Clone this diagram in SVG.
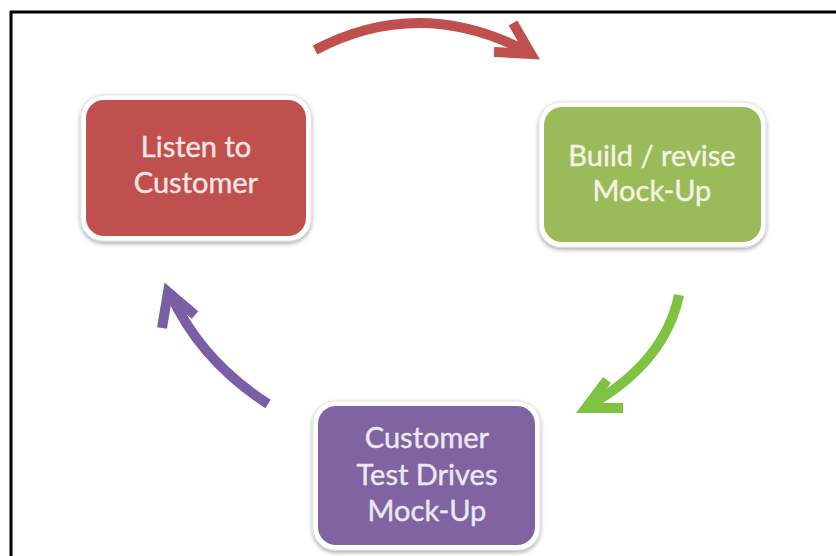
<svg xmlns="http://www.w3.org/2000/svg" width="836" height="556" viewBox="0 0 836 556">
  <defs>
    <filter id="sh" x="-10%" y="-10%" width="120%" height="130%">
      <feDropShadow dx="0" dy="2" stdDeviation="2" flood-color="#000" flood-opacity="0.35"/>
    </filter>
    <style>
      .rim { fill: #ffffff; stroke: #e2e2e2; stroke-width: 1; filter: url(#sh); }
      .lbl { font-family: Lato, "Open Sans", "Liberation Sans", sans-serif; font-size: 29px; text-anchor: middle; stroke-width: 0.4; }
      .arr { fill: none; stroke-width: 10; stroke-linecap: butt; stroke-linejoin: miter; }
    </style>
  </defs>
  <rect x="0" y="0" width="836" height="556" fill="#ffffff"/>
  <g id="frame" stroke="#000" stroke-width="3">
    <line x1="10" y1="12" x2="836" y2="12"/>
    <line x1="11" y1="11" x2="11" y2="556"/>
  </g>

  <g id="node-listen">
    <rect class="rim" x="81" y="95" width="230" height="146" rx="22"/>
    <rect x="86" y="100" width="220" height="136" rx="18" fill="#c0504d"/>
    <text class="lbl" fill="#f7e6e5" stroke="#f7e6e5"><tspan x="196" y="157">Listen to</tspan><tspan x="196" y="193">Customer</tspan></text>
  </g>

  <g id="node-build">
    <rect class="rim" x="539" y="102" width="227" height="145" rx="22"/>
    <rect x="544" y="107" width="217" height="135" rx="18" fill="#9bbb59"/>
    <text class="lbl" fill="#f1f5e6" stroke="#f1f5e6"><tspan x="652" y="166">Build / revise</tspan><tspan x="652" y="201">Mock-Up</tspan></text>
  </g>

  <g id="node-test">
    <rect class="rim" x="313" y="401" width="227" height="149" rx="22"/>
    <rect x="318" y="406" width="217" height="139" rx="18" fill="#8064a2"/>
    <text class="lbl" fill="#ece8f2" stroke="#ece8f2"><tspan x="427" y="448">Customer</tspan><tspan x="427" y="485">Test Drives</tspan><tspan x="427" y="521">Mock-Up</tspan></text>
  </g>

  <g id="connectors">
    <g>
      <path class="arr" stroke="#c0504d" d="M315,50 Q420,-5 528,52"/>
      <polyline class="arr" stroke="#c0504d" points="513,23 531,54 494,52"/>
    </g>
    <g>
      <path class="arr" stroke="#7fc241" d="M679,295 Q665,362 590,405"/>
      <polyline class="arr" stroke="#7fc241" points="607,380 586,408 623,408"/>
    </g>
    <g>
      <path class="arr" stroke="#7b5fa6" d="M268,404 Q200,360 170,293"/>
      <polyline class="arr" stroke="#7b5fa6" points="162,328 168,292 195,315"/>
    </g>
  </g>
</svg>
